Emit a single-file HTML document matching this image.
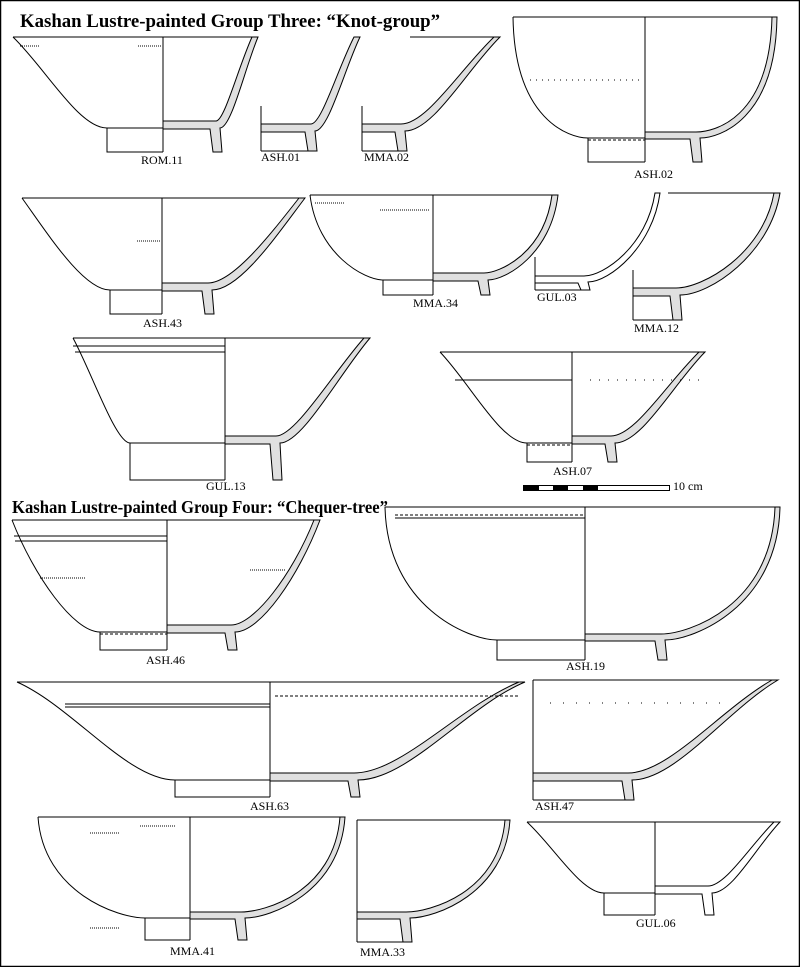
<!DOCTYPE html>
<html><head><meta charset="utf-8"><style>
html,body{margin:0;padding:0;background:#fff;}
svg{display:block;}
text{font-family:"Liberation Serif",serif;}
</style></head><body>
<svg id="s" width="800" height="967" viewBox="0 0 800 967" xmlns="http://www.w3.org/2000/svg">
<rect x="0.5" y="0.5" width="799" height="966" fill="#fff" stroke="#000" stroke-width="1.5"/>
<text x="20" y="27" font-size="19" font-weight="bold" textLength="420" lengthAdjust="spacingAndGlyphs">Kashan Lustre-painted Group Three: “Knot-group”</text>
<text x="12" y="513" font-size="18" font-weight="bold" textLength="376" lengthAdjust="spacingAndGlyphs">Kashan Lustre-painted Group Four: “Chequer-tree”</text>
<g id="g" fill="none" stroke="#000" stroke-width="1"></g>
<g font-size="12" fill="#000">
<text x="141" y="164">ROM.11</text>
<text x="261" y="161">ASH.01</text>
<text x="364" y="161">MMA.02</text>
<text x="634" y="178">ASH.02</text>
<text x="143" y="327">ASH.43</text>
<text x="413" y="307">MMA.34</text>
<text x="537" y="301">GUL.03</text>
<text x="634" y="332">MMA.12</text>
<text x="206" y="490">GUL.13</text>
<text x="553" y="475">ASH.07</text>
<text x="673" y="490">10 cm</text>
<text x="146" y="664">ASH.46</text>
<text x="566" y="670">ASH.19</text>
<text x="250" y="810">ASH.63</text>
<text x="535" y="810">ASH.47</text>
<text x="170" y="955">MMA.41</text>
<text x="360" y="956">MMA.33</text>
<text x="636" y="927">GUL.06</text>
</g>
<g>
<rect x="523.5" y="485.5" width="146" height="5" fill="#fff" stroke="#000"/>
<rect x="524" y="486" width="15" height="5" fill="#000"/>
<rect x="553" y="486" width="15" height="5" fill="#000"/>
<rect x="583" y="486" width="15" height="5" fill="#000"/>
</g>
</svg>
<script>
var h='';
function P(d,f){h+='<path d="'+d+'" fill="'+(f||'none')+'" stroke="#000" stroke-width="1"/>';}
function L(a,b,c,d,dash){h+='<line x1="'+a+'" y1="'+b+'" x2="'+c+'" y2="'+d+'" stroke="#000" stroke-width="1"'+(dash?' stroke-dasharray="'+dash+'"':'')+'/>';}
var G='#e0e0e0';
function sec(cx,yt,xr,yb,fr,fh,t,kx,deep,k2,fill){
 var hg=yb-yt,c1x=xr-(xr-fr)*kx,c1y=yt+hg*deep,c2x=fr+(xr-fr)*k2;
 P('M'+xr+','+yt+' C'+c1x+','+c1y+' '+c2x+','+yb+' '+fr+','+yb+' L'+(fr+2)+','+(yb+fh)+' L'+(fr-7)+','+(yb+fh)+' L'+(fr-10)+','+(yb+1)+' L'+cx+','+(yb+1)+' L'+cx+','+(yb-t)+' L'+(fr-4)+','+(yb-t)+' C'+(c2x-t)+','+(yb-t)+' '+(c1x-t)+','+c1y+' '+(xr-t+1)+','+yt+' Z',fill||G);
}
function bowl(cx,yt,xl,xr,yb,fl,fr,fh,o){
 o=o||{};var kx=o.kx||0.35,deep=o.deep||0.35,k2=o.k2||0.3,t=o.t||7;var hg=yb-yt;
 P('M'+xl+','+yt+' C'+(xl+(fl-xl)*kx)+','+(yt+hg*deep)+' '+(fl-(fl-xl)*k2)+','+yb+' '+fl+','+yb);
 P('M'+fl+','+yb+' L'+fl+','+(yb+fh)+' L'+cx+','+(yb+fh));
 L(fl,yb,cx,yb);L(xl,yt,xr-4,yt);L(cx,yt,cx,yb+fh);
 sec(cx,yt,xr,yb,fr,fh,t,kx,deep,k2,o.fill);
}
function part(xs,yt,xr,yb,fr,fh,o){
 o=o||{};sec(xs,yt,xr,yb,fr,fh,o.t||7,o.kx||0.35,o.deep||0.35,o.k2||0.3,o.fill);
 L(xs,yb-25,xs,yb+fh);L(xs,yb+fh,fr+2,yb+fh);
 if(o.top)L(o.top,yt,xr,yt);
}
bowl(163,37,13,258,128,107,220,24);
L(20,46,40,46,'1,1');L(138,46,162,46,'1,1');
part(261,37,360,131,315,20);
part(362,37,500,131,405,20,{top:410});
bowl(645,17,513,777,138,588,700,24,{kx:0.02,deep:0.85,k2:0.25,t:6});
L(530,80,640,80,'1,5');L(588,140,645,140,'3,2');
bowl(162,198,22,305,290,110,212,24,{kx:0.3,deep:0.4});
L(137,241,160,241,'1,1');
bowl(433,195,310,558,280,383,488,15,{kx:0.1,deep:0.7,k2:0.25});
L(315,203,345,203,'1,1');L(380,210,430,210,'1,1');
part(535,193,660,282,588,8,{fill:'#fff',t:6,kx:0.1,deep:0.6});
part(633,193,780,295,680,25,{kx:0.1,deep:0.6,top:668});
bowl(225,338,73,370,443,130,280,37,{kx:0.33,deep:0.33,k2:0.25});
L(73,346,225,346);L(75,352,225,352);
bowl(572,352,440,705,443,527,615,19,{kx:0.35,deep:0.35});
L(455,380,572,380);L(590,380,700,380,'1,8');L(527,445,572,445,'3,2');
bowl(167,520,12,320,632,100,235,18,{kx:0.25,deep:0.5});
L(14,536,167,536);L(15,541,167,541);L(40,578,85,578,'1,1');L(250,570,285,570,'1,1');L(100,634,167,634,'3,2');
bowl(585,507,385,780,640,497,665,20,{kx:0.02,deep:0.75,k2:0.25,t:6});
L(395,515,585,515,'3,2');L(395,518,585,518);
bowl(270,682,17,525,780,175,358,17,{kx:0.35,deep:0.25,k2:0.3});
L(65,704,270,704);L(65,707,270,707);L(275,696,520,696,'3,2');
part(533,680,778,780,632,20,{kx:0.35,deep:0.3,top:533});
L(533,680,533,780);L(550,703,720,703,'1,12');
bowl(190,817,38,345,918,145,245,22,{kx:0.05,deep:0.75,k2:0.25,t:6});
L(90,833,120,833,'1,1');L(140,826,175,826,'1,1');L(90,928,120,928,'1,1');
part(357,820,510,918,410,24,{kx:0.05,deep:0.75,k2:0.25,t:6,top:357});
L(357,820,357,942);
bowl(655,822,527,780,893,604,712,22,{kx:0.35,deep:0.35,fill:'#fff'});
document.getElementById('g').innerHTML=h;
</script>
</body></html>
